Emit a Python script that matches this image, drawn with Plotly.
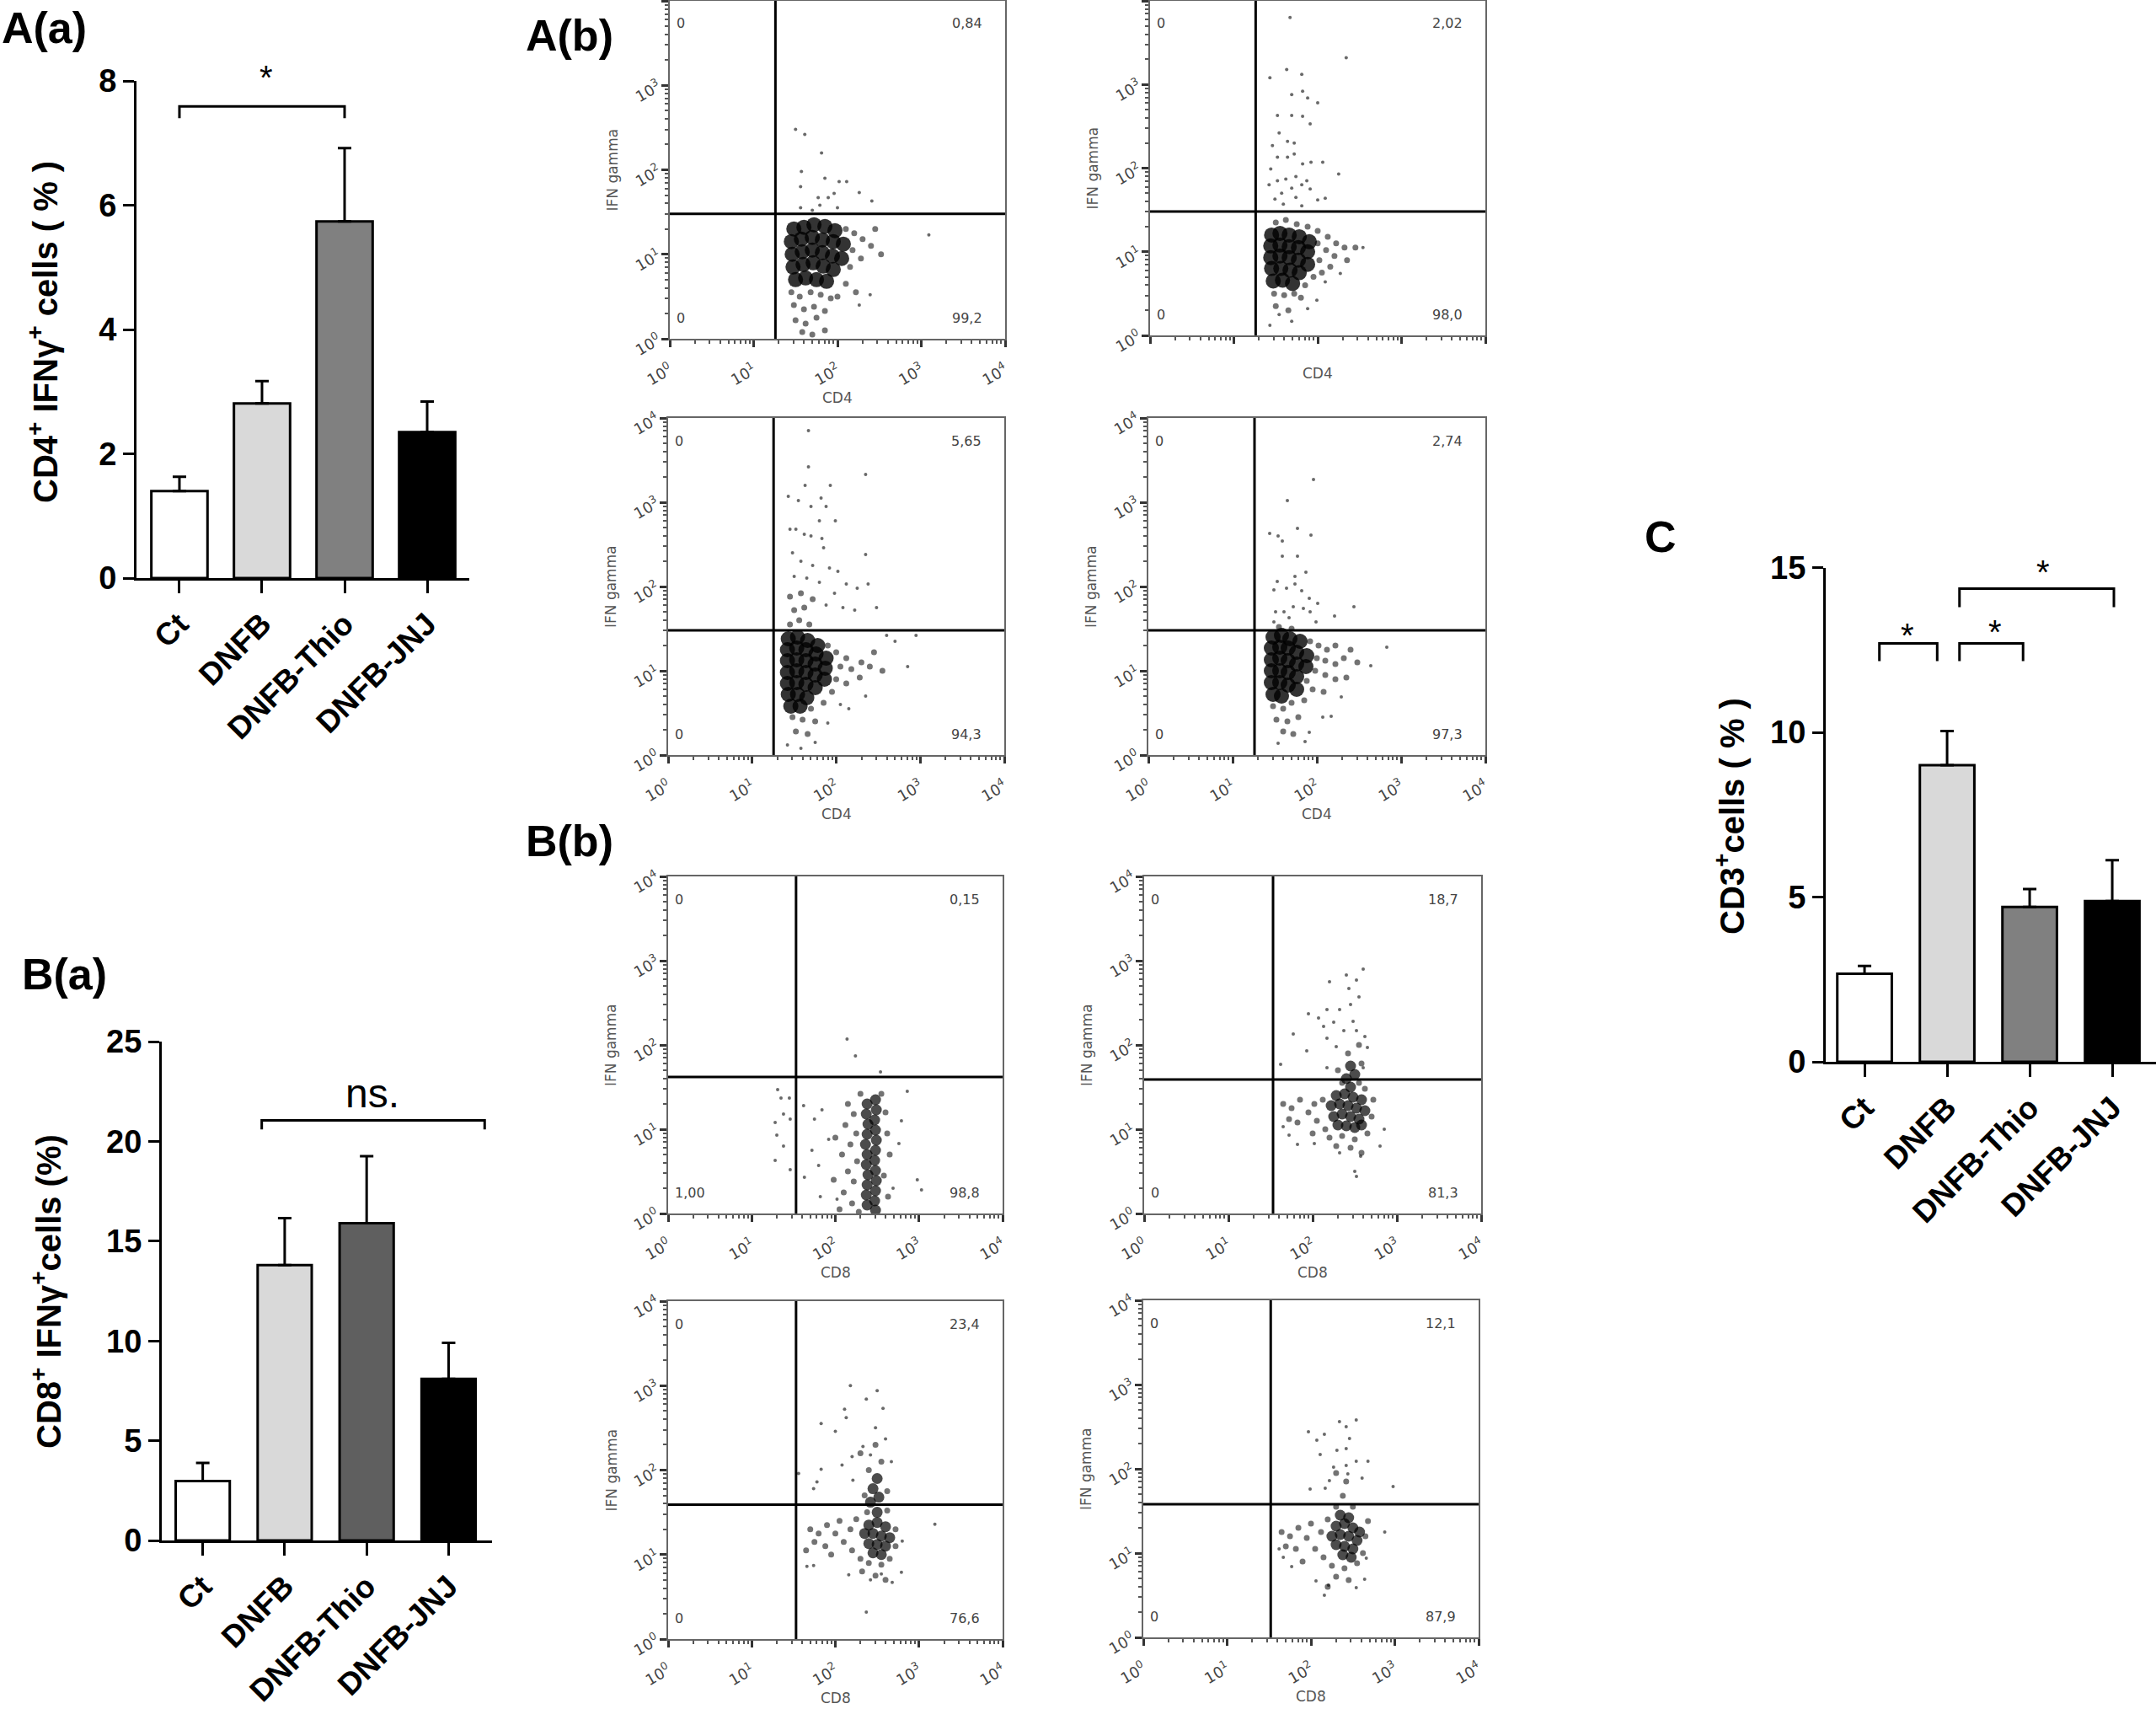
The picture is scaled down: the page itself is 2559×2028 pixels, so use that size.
import plotly.graph_objects as go

W, H = 2559, 2028

# ---------------- bar charts ----------------
groups = ["Ct", "DNFB", "DNFB-Thio", "DNFB-JNJ"]

cd4_ifng = [1.40, 2.81, 5.74, 2.35]
cd4_ifng_err = [0.23, 0.36, 1.18, 0.49]

cd8_ifng = [2.98, 13.8, 15.9, 8.1]
cd8_ifng_err = [0.90, 2.35, 3.36, 1.80]

cd3_cells = [2.67, 9.0, 4.70, 4.88]
cd3_cells_err = [0.24, 1.04, 0.54, 1.24]

# brackets: (x from, x to, top, foot); marks: (x, y, text)
cd4_brackets = [(0.0, 2.0, 7.59, 7.40)]
cd4_marks = [(1.05, 8.05, "*")]
cd8_brackets = [(0.72, 3.44, 21.05, 20.6)]
cd8_marks = [(2.07, 22.4, "ns.")]
cd3_brackets = [(0.18, 0.88, 12.7, 12.16), (1.15, 1.92, 12.7, 12.16), (1.15, 3.02, 14.36, 13.8)]
cd3_marks = [(0.52, 12.95, "*"), (1.58, 13.05, "*"), (2.16, 14.85, "*")]

# ---------------- flow dot plots (log10 units) ----------------
quad_ul = ["0", "0", "0", "0", "0", "0", "0", "0"]
quad_ur = ["0,84", "2,02", "5,65", "2,74", "0,15", "18,7", "23,4", "12,1"]
quad_ll = ["0", "0", "0", "0", "1,00", "0", "0", "0"]
quad_lr = ["99,2", "98,0", "94,3", "97,3", "98,8", "81,3", "76,6", "87,9"]
x_markers = ["CD4", "CD4", "CD4", "CD4", "CD8", "CD8", "CD8", "CD8"]
gate_x = [1.26, 1.26, 1.255, 1.26, 1.53, 1.53, 1.53, 1.52]
gate_y = [1.48, 1.48, 1.48, 1.48, 1.62, 1.59, 1.59, 1.58]

# CD4 / Ct
cd4_ct_core = [(1.48, 1.30), (1.60, 1.32), (1.72, 1.35), (1.85, 1.33), (1.97, 1.28),
               (1.45, 1.15), (1.57, 1.18), (1.70, 1.20), (1.82, 1.17), (1.95, 1.15), (2.07, 1.12),
               (1.46, 1.00), (1.58, 1.03), (1.70, 1.05), (1.82, 1.02), (1.94, 0.98), (2.05, 0.95),
               (1.47, 0.85), (1.59, 0.88), (1.71, 0.90), (1.83, 0.86), (1.95, 0.82),
               (1.50, 0.70), (1.62, 0.72), (1.75, 0.70), (1.87, 0.68)]
cd4_ct_mid = [(1.45, 0.55), (1.55, 0.50), (1.68, 0.55), (1.80, 0.52), (1.92, 0.48), (1.48, 0.40),
              (1.60, 0.35), (1.72, 0.38), (1.85, 0.33), (1.50, 0.22), (1.62, 0.18), (1.75, 0.25),
              (1.58, 0.08), (1.70, 0.05), (1.85, 0.10), (2.10, 1.30), (2.20, 1.25), (2.30, 1.18),
              (2.18, 1.05), (2.28, 0.95), (2.40, 1.10), (2.45, 1.30), (2.52, 1.00), (2.15, 0.85),
              (2.10, 0.65), (2.00, 0.50), (2.22, 0.55)]
cd4_ct_dots = [(1.50, 2.48), (1.61, 2.42), (1.81, 2.20), (1.57, 1.98), (1.85, 1.90), (2.02, 1.86),
               (2.11, 1.86), (1.56, 1.80), (1.96, 1.72), (1.89, 1.67), (1.77, 1.67), (2.26, 1.73),
               (2.41, 1.63), (1.56, 1.55), (1.79, 1.58), (3.09, 1.23), (2.39, 0.52), (2.26, 0.40),
               (2.00, 1.55), (1.70, 1.52)]

# CD4 / DNFB
cd4_dnfb_core = [(1.45, 1.20), (1.55, 1.22), (1.66, 1.20), (1.78, 1.18), (1.90, 1.12),
                 (1.44, 1.07), (1.55, 1.08), (1.66, 1.06), (1.77, 1.05), (1.88, 1.00),
                 (1.44, 0.93), (1.55, 0.95), (1.66, 0.93), (1.77, 0.90), (1.88, 0.85),
                 (1.45, 0.80), (1.56, 0.80), (1.67, 0.78), (1.78, 0.75),
                 (1.47, 0.65), (1.58, 0.66), (1.70, 0.62)]
cd4_dnfb_mid = [(1.50, 1.35), (1.62, 1.38), (1.75, 1.33), (1.88, 1.30), (2.00, 1.25), (2.00, 1.10),
                (2.12, 1.18), (2.10, 1.02), (2.22, 1.10), (2.20, 0.95), (2.32, 1.05), (2.02, 0.90),
                (2.15, 0.82), (2.35, 0.90), (2.45, 1.05), (1.95, 0.70), (1.85, 0.60), (1.48, 0.50),
                (1.60, 0.48), (1.72, 0.50), (1.50, 0.35), (1.65, 0.30), (1.80, 0.45), (2.05, 0.75)]
cd4_dnfb_dots = [(1.67, 3.80), (2.34, 3.32), (1.63, 3.18), (1.43, 3.08), (1.81, 3.12), (1.69, 2.88),
                 (1.82, 2.92), (1.88, 2.84), (2.00, 2.78), (1.52, 2.63), (1.69, 2.63), (1.82, 2.62),
                 (1.91, 2.53), (1.54, 2.42), (1.46, 2.27), (1.64, 2.32), (1.72, 2.30), (1.52, 2.13),
                 (1.64, 2.13), (1.72, 2.17), (1.82, 2.05), (1.92, 2.07), (2.06, 2.07), (1.44, 1.99),
                 (1.52, 1.85), (1.62, 1.87), (1.74, 1.90), (1.87, 1.85), (2.25, 1.93), (1.42, 1.80),
                 (1.57, 1.70), (1.69, 1.76), (1.81, 1.80), (1.91, 1.75), (1.49, 1.63), (1.74, 1.65),
                 (2.00, 1.62), (2.09, 1.64), (1.59, 1.57), (1.81, 1.55), (2.54, 1.05), (2.27, 0.74),
                 (2.09, 0.64), (1.99, 0.42), (1.88, 0.32), (1.69, 0.17), (1.54, 0.25), (1.43, 0.12)]

# CD4 / DNFB-Thio
cd4_thio_core = [(1.43, 1.38), (1.54, 1.40), (1.66, 1.36), (1.78, 1.30),
                 (1.42, 1.25), (1.53, 1.27), (1.64, 1.25), (1.76, 1.20), (1.88, 1.15),
                 (1.42, 1.12), (1.53, 1.13), (1.64, 1.12), (1.75, 1.08), (1.87, 1.03),
                 (1.42, 0.98), (1.53, 1.00), (1.64, 0.98), (1.75, 0.95), (1.86, 0.90),
                 (1.42, 0.85), (1.53, 0.86), (1.64, 0.84), (1.75, 0.80),
                 (1.43, 0.72), (1.54, 0.72), (1.65, 0.68), (1.46, 0.58), (1.57, 0.58)]
cd4_thio_mid = [(1.45, 1.55), (1.56, 1.60), (1.68, 1.55), (1.50, 1.72), (1.62, 1.75), (1.45, 1.88),
                (1.58, 1.92), (1.72, 1.85), (1.90, 1.30), (2.00, 1.22), (2.12, 1.15), (2.05, 1.05),
                (2.18, 1.02), (2.30, 1.10), (2.00, 0.90), (2.12, 0.85), (2.28, 0.92), (2.40, 1.05),
                (1.95, 0.75), (1.85, 0.62), (1.70, 0.55), (1.48, 0.45), (1.60, 0.42), (1.75, 0.40),
                (1.52, 0.28), (1.66, 0.25), (2.45, 1.22), (2.55, 1.00)]
cd4_thio_dots = [(1.67, 3.85), (1.67, 3.42), (1.63, 3.20), (1.93, 3.20), (2.35, 3.33), (1.43, 3.07),
                 (1.55, 3.02), (1.82, 3.05), (1.70, 2.95), (1.88, 2.95), (1.80, 2.78), (1.99, 2.78),
                 (1.45, 2.68), (1.52, 2.68), (1.62, 2.62), (1.70, 2.60), (1.83, 2.57), (1.85, 2.46),
                 (2.35, 2.38), (1.48, 2.40), (1.58, 2.30), (1.72, 2.25), (1.92, 2.22), (2.02, 2.18),
                 (1.50, 2.12), (1.65, 2.10), (1.80, 2.05), (2.38, 2.03), (2.12, 2.03), (2.25, 1.98),
                 (1.98, 1.92), (1.88, 1.78), (2.08, 1.75), (2.22, 1.72), (2.48, 1.75), (2.60, 1.42),
                 (2.70, 1.35), (2.95, 1.42), (2.85, 1.05), (2.35, 0.70), (2.15, 0.55), (1.90, 0.38),
                 (1.75, 0.15), (1.58, 0.08), (1.42, 0.12), (2.05, 0.60)]

# CD4 / DNFB-JNJ
cd4_jnj_core = [(1.48, 1.40), (1.58, 1.42), (1.68, 1.38), (1.80, 1.35),
                (1.46, 1.27), (1.56, 1.28), (1.66, 1.27), (1.76, 1.22), (1.88, 1.18),
                (1.46, 1.13), (1.56, 1.15), (1.66, 1.12), (1.76, 1.08), (1.87, 1.05),
                (1.46, 1.00), (1.56, 1.00), (1.66, 0.98), (1.76, 0.93),
                (1.46, 0.86), (1.56, 0.86), (1.66, 0.83), (1.76, 0.78),
                (1.48, 0.72), (1.58, 0.70)]
cd4_jnj_mid = [(1.92, 1.35), (2.02, 1.30), (2.12, 1.25), (2.22, 1.30), (2.00, 1.15), (2.10, 1.12),
               (2.22, 1.08), (2.32, 1.15), (2.40, 1.25), (1.98, 1.00), (2.10, 0.95), (2.22, 0.90),
               (2.35, 0.92), (1.88, 0.88), (1.95, 0.78), (2.08, 0.75), (1.85, 0.65), (1.70, 0.62),
               (1.48, 0.58), (1.60, 0.55), (1.52, 0.42), (1.65, 0.40), (1.78, 0.45), (1.60, 0.28),
               (1.72, 0.25), (2.48, 1.10), (1.55, 1.52), (1.70, 1.50)]
cd4_jnj_dots = [(1.96, 3.27), (1.65, 3.02), (1.44, 2.63), (1.54, 2.60), (1.77, 2.69), (1.93, 2.61),
                (1.59, 2.54), (1.59, 2.36), (1.77, 2.36), (1.74, 2.12), (1.87, 2.17), (1.53, 2.06),
                (1.49, 1.96), (1.64, 1.98), (1.74, 2.03), (1.82, 1.95), (1.91, 1.86), (2.01, 1.80),
                (2.44, 1.76), (1.72, 1.76), (1.84, 1.74), (1.51, 1.70), (1.61, 1.70), (1.92, 1.70),
                (2.21, 1.65), (1.49, 1.58), (1.67, 1.63), (1.99, 1.58), (2.83, 1.28), (2.64, 1.06),
                (2.29, 0.69), (2.17, 0.46), (2.07, 0.45), (1.91, 0.27), (1.86, 0.16), (1.54, 0.14)]

# CD8 / Ct
cd8_ct_core = [(2.38, 1.30), (2.37, 1.18), (2.39, 1.06), (2.38, 0.94), (2.36, 0.82), (2.38, 0.70),
               (2.37, 0.58), (2.39, 0.46), (2.38, 0.34), (2.37, 0.22), (2.38, 0.10),
               (2.48, 1.35), (2.49, 1.23), (2.47, 1.11), (2.48, 0.99), (2.49, 0.87), (2.48, 0.75),
               (2.47, 0.63), (2.48, 0.51), (2.49, 0.39), (2.48, 0.27), (2.47, 0.15), (2.48, 0.04)]
cd8_ct_mid = [(2.15, 1.30), (2.22, 1.18), (2.12, 1.05), (2.25, 0.95), (2.18, 0.82), (2.08, 0.70),
              (2.26, 0.62), (2.15, 0.50), (2.22, 0.38), (2.10, 0.25), (2.20, 0.12), (2.05, 0.05),
              (2.60, 1.20), (2.62, 0.95), (2.65, 0.70), (2.58, 0.45), (2.63, 0.20), (2.30, 1.42),
              (2.55, 1.42), (2.00, 0.90), (1.98, 0.40), (2.28, 0.02)]
cd8_ct_dots = [(2.14, 2.07), (2.24, 1.87), (1.31, 1.47), (1.35, 1.37), (1.45, 1.37), (1.38, 1.18),
               (1.28, 1.08), (1.46, 1.12), (1.30, 0.93), (1.38, 0.80), (1.28, 0.63), (1.46, 0.52),
               (1.62, 1.28), (1.75, 1.12), (1.84, 1.23), (1.92, 0.88), (1.72, 0.75), (1.80, 0.57),
               (1.63, 0.43), (1.82, 0.20), (2.02, 0.17), (2.86, 1.45), (2.79, 1.10), (2.76, 0.83),
               (2.98, 0.40), (3.03, 0.28), (2.69, 0.30), (2.54, 1.68)]

# CD8 / DNFB
cd8_dnfb_core = [(2.28, 1.40), (2.38, 1.42), (2.48, 1.38), (2.58, 1.35), (2.22, 1.28), (2.32, 1.30),
                 (2.42, 1.28), (2.52, 1.25), (2.62, 1.22), (2.25, 1.15), (2.35, 1.18), (2.45, 1.15),
                 (2.55, 1.12), (2.30, 1.05), (2.40, 1.04), (2.50, 1.02), (2.58, 1.05), (2.45, 1.50),
                 (2.40, 1.60), (2.50, 1.65), (2.45, 1.75)]
cd8_dnfb_mid = [(1.65, 1.30), (1.75, 1.25), (1.85, 1.35), (1.72, 1.12), (1.82, 1.08), (1.95, 1.20),
                (2.02, 1.30), (2.05, 1.10), (2.12, 1.35), (2.15, 1.00), (2.00, 0.95), (2.20, 0.90),
                (2.35, 0.92), (2.50, 0.88), (2.65, 0.95), (2.70, 1.15), (2.72, 1.35), (2.28, 0.80),
                (2.45, 0.78), (2.58, 0.72), (2.35, 1.55), (2.55, 1.55), (2.62, 1.48), (2.30, 1.70),
                (2.58, 1.78), (2.42, 1.90), (2.55, 2.00)]
cd8_dnfb_dots = [(2.60, 2.90), (2.40, 2.83), (2.20, 2.75), (2.52, 2.77), (2.43, 2.67), (2.55, 2.57),
                 (2.45, 2.48), (1.95, 2.37), (2.17, 2.42), (2.32, 2.42), (2.25, 2.27), (2.07, 2.32),
                 (2.13, 2.22), (2.48, 2.28), (2.37, 2.17), (2.52, 2.17), (2.62, 2.10), (2.17, 2.08),
                 (2.28, 1.98), (2.65, 1.97), (1.93, 1.93), (1.77, 2.13), (2.17, 1.73), (2.60, 1.73),
                 (1.62, 1.77), (1.82, 0.82), (2.02, 0.83), (2.32, 0.72), (2.57, 0.68), (2.80, 0.80),
                 (2.85, 1.00), (2.50, 0.50), (2.52, 0.44), (1.65, 1.03), (1.72, 0.93)]

# CD8 / DNFB-Thio
cd8_thio_core = [(2.40, 1.35), (2.50, 1.38), (2.60, 1.33), (2.35, 1.25), (2.45, 1.25), (2.55, 1.22),
                 (2.65, 1.20), (2.40, 1.13), (2.50, 1.12), (2.60, 1.10), (2.45, 1.02), (2.55, 1.00),
                 (2.50, 1.50), (2.42, 1.62), (2.52, 1.68), (2.45, 1.78), (2.50, 1.90)]
cd8_thio_mid = [(1.70, 1.30), (1.80, 1.25), (1.90, 1.35), (1.75, 1.15), (1.88, 1.10), (2.00, 1.25),
                (2.05, 1.40), (2.10, 1.15), (2.18, 1.30), (2.20, 1.05), (2.25, 1.42), (2.30, 0.95),
                (2.40, 0.90), (2.55, 0.88), (2.65, 0.95), (2.72, 1.10), (2.72, 1.30), (2.32, 0.80),
                (2.48, 0.75), (2.60, 0.70), (2.38, 1.50), (2.62, 1.52), (2.35, 1.70), (2.62, 1.75),
                (2.40, 2.00), (2.55, 2.10), (2.30, 2.20), (2.48, 2.30), (1.65, 1.05), (1.95, 1.00)]
cd8_thio_dots = [(2.18, 3.00), (2.50, 2.94), (2.37, 2.84), (2.57, 2.73), (2.11, 2.72), (2.13, 2.62),
                 (1.83, 2.55), (2.48, 2.50), (2.00, 2.46), (2.60, 2.37), (2.33, 2.28), (2.42, 2.18),
                 (2.20, 2.16), (2.67, 2.10), (2.08, 2.06), (1.83, 2.01), (2.21, 1.88), (1.78, 1.86),
                 (1.74, 1.78), (1.56, 1.96), (3.19, 1.36), (2.80, 1.16), (2.79, 0.79), (2.16, 0.76),
                 (2.42, 0.70), (2.68, 0.67), (1.66, 0.86), (1.74, 0.87), (2.37, 0.32), (2.55, 0.77)]

# CD8 / DNFB-JNJ
cd8_jnj_core = [(2.30, 1.32), (2.40, 1.35), (2.50, 1.30), (2.58, 1.25), (2.25, 1.20), (2.35, 1.22),
                (2.45, 1.20), (2.55, 1.15), (2.30, 1.10), (2.40, 1.08), (2.50, 1.05), (2.38, 0.98),
                (2.48, 0.95), (2.35, 1.45), (2.45, 1.42)]
cd8_jnj_mid = [(1.65, 1.25), (1.75, 1.20), (1.85, 1.30), (1.70, 1.08), (1.82, 1.05), (1.95, 1.18),
               (2.00, 1.35), (2.05, 1.05), (2.12, 1.25), (2.15, 0.95), (2.20, 1.40), (2.25, 0.85),
               (2.40, 0.82), (2.55, 0.88), (2.62, 1.00), (2.65, 1.20), (2.68, 1.38), (2.30, 0.72),
               (2.45, 0.68), (2.20, 0.60), (2.30, 1.55), (2.50, 1.55), (2.38, 1.68), (2.42, 1.85),
               (2.30, 1.95), (1.90, 0.90)]
cd8_jnj_dots = [(2.34, 2.56), (2.54, 2.58), (2.42, 2.50), (1.97, 2.44), (2.16, 2.41), (2.07, 2.34),
                (2.46, 2.36), (2.31, 2.22), (2.42, 2.24), (2.11, 2.17), (2.54, 2.09), (2.68, 2.09),
                (2.27, 2.02), (2.42, 2.04), (2.44, 1.94), (2.22, 1.86), (1.99, 1.76), (2.17, 1.77),
                (2.98, 1.79), (2.61, 1.89), (2.88, 1.25), (2.66, 0.94), (1.77, 0.84), (2.64, 0.69),
                (2.06, 0.67), (2.21, 0.62), (2.54, 0.59), (2.16, 0.50), (1.62, 1.05), (1.67, 0.95)]

clouds = [
    (cd4_ct_core, cd4_ct_mid, cd4_ct_dots),
    (cd4_dnfb_core, cd4_dnfb_mid, cd4_dnfb_dots),
    (cd4_thio_core, cd4_thio_mid, cd4_thio_dots),
    (cd4_jnj_core, cd4_jnj_mid, cd4_jnj_dots),
    (cd8_ct_core, cd8_ct_mid, cd8_ct_dots),
    (cd8_dnfb_core, cd8_dnfb_mid, cd8_dnfb_dots),
    (cd8_thio_core, cd8_thio_mid, cd8_thio_dots),
    (cd8_jnj_core, cd8_jnj_mid, cd8_jnj_dots),
]

FONT = "Liberation Sans"
FLOW_FONT = "DejaVu Sans"


def px_x(a, b):
    return [a / W, b / W]


def px_y(top, bottom):
    return [1 - bottom / H, 1 - top / H]


def axname(n, kind):
    return kind if n == 1 else f"{kind}{n}"


fig = go.Figure()
layout = {}
annotations = []

# ---- bar panels ----
bar_panels = [
    dict(y=cd4_ifng, err=cd4_ifng_err, colors=["white", "#d9d9d9", "#808080", "black"],
         box=(162, 557, 96, 686), xr=[-0.52, 3.51], yr=[0, 8], ticks=[0, 2, 4, 6, 8], width=0.68,
         brackets=cd4_brackets, marks=cd4_marks,
         title="CD4<sup>+</sup> IFNγ<sup>+</sup> cells ( % )", title_xy=(51, 394)),
    dict(y=cd8_ifng, err=cd8_ifng_err, colors=["white", "#d9d9d9", "#5f5f5f", "black"],
         box=(192, 584, 1236, 1828), xr=[-0.50, 3.53], yr=[0, 25], ticks=[0, 5, 10, 15, 20, 25], width=0.66,
         brackets=cd8_brackets, marks=cd8_marks,
         title="CD8<sup>+</sup> IFNγ<sup>+</sup>cells (%)", title_xy=(55, 1533)),
    dict(y=cd3_cells, err=cd3_cells_err, colors=["white", "#d9d9d9", "#808080", "black"],
         box=(2167, 2559, 673.5, 1260), xr=[-0.47, 3.53], yr=[0, 15], ticks=[0, 5, 10, 15], width=0.66,
         brackets=cd3_brackets, marks=cd3_marks,
         title="CD3<sup>+</sup>cells ( % )", title_xy=(2053, 969)),
]

for i, p in enumerate(bar_panels):
    n = i + 1
    xa, ya = axname(n, "x"), axname(n, "y")
    fig.add_trace(go.Bar(
        x=list(range(len(groups))), y=p["y"], width=p["width"],
        marker=dict(color=p["colors"], line=dict(color="black", width=3)),
        error_y=dict(type="data", symmetric=False, array=p["err"], arrayminus=[0] * len(groups),
                     color="black", thickness=3, width=8),
        xaxis=xa, yaxis=ya, showlegend=False, hoverinfo="skip"))
    for x0, x1, top, foot in p["brackets"]:
        fig.add_trace(go.Scatter(
            x=[x0, x0, x1, x1], y=[foot, top, top, foot], mode="lines",
            line=dict(color="black", width=3), xaxis=xa, yaxis=ya,
            showlegend=False, hoverinfo="skip", cliponaxis=False))
    ymin, ymax = p["yr"]
    for mx, my, txt in p["marks"]:
        # placed on the axis domain so marks above the top tick stay visible
        annotations.append(dict(x=mx, y=(my - ymin) / (ymax - ymin), xref=xa, yref=f"{ya} domain",
                                text=txt, showarrow=False, xanchor="center", yanchor="middle",
                                font=dict(family=FONT, size=48 if txt == "ns." else 40, color="black")))
    l, r, t, b = p["box"]
    layout[axname(n, "xaxis")] = dict(
        domain=px_x(l, r), range=p["xr"], anchor=ya, showline=True, linecolor="black", linewidth=3,
        ticks="outside", ticklen=15, tickwidth=3, tickcolor="black",
        tickvals=list(range(len(groups))), ticktext=groups, tickangle=-45,
        tickfont=dict(family=FONT, size=37, color="black", weight="bold"),
        showgrid=False, zeroline=False, automargin=False)
    layout[axname(n, "yaxis")] = dict(
        domain=px_y(t, b), range=p["yr"], anchor=xa, showline=True, linecolor="black", linewidth=3,
        ticks="outside", ticklen=13, tickwidth=3, tickcolor="black", tickvals=p["ticks"],
        tickfont=dict(family=FONT, size=38, color="black", weight="bold"),
        showgrid=False, zeroline=False, automargin=False)
    tx, ty = p["title_xy"]
    annotations.append(dict(x=tx / W, y=1 - ty / H, xref="paper", yref="paper", text=p["title"],
                            textangle=-90, showarrow=False, xanchor="center", yanchor="middle",
                            font=dict(family=FONT, size=40, color="black", weight="bold")))

# ---- flow cytometry dot plots ----
flow_boxes = [
    (795, 1193, 1, 402), (1365, 1763, 1, 398),
    (793, 1192, 496, 896), (1363, 1763, 496, 896),
    (793, 1190, 1040, 1440), (1358, 1758, 1040, 1440),
    (793, 1190, 1544, 1945), (1357, 1755, 1543, 1943),
]
dec_vals = [1, 10, 100, 1000, 10000]
dec_text = ["10<sup>0</sup>", "10<sup>1</sup>", "10<sup>2</sup>", "10<sup>3</sup>", "10<sup>4</sup>"]
minor_vals = [m * 10 ** k for k in range(4) for m in range(2, 10)]

for i, (core, mid, dots) in enumerate(clouds):
    n = 4 + i
    xa, ya = axname(n, "x"), axname(n, "y")
    is_cd4 = i < 4
    tiers = [
        (dots, 4, "#444444", 0.8),
        (mid, 7, "#000000", 0.55),
        (core, 18 if is_cd4 else 13, "#000000", 0.8 if is_cd4 else 0.7),
    ]
    for pts, size, color, op in tiers:
        fig.add_trace(go.Scatter(
            x=[10 ** px for px, py in pts], y=[10 ** py for px, py in pts], mode="markers",
            marker=dict(size=size, color=color, opacity=op, line=dict(width=0)),
            xaxis=xa, yaxis=ya, showlegend=False, hoverinfo="skip"))
    # quadrant gate
    gx, gy = 10 ** gate_x[i], 10 ** gate_y[i]
    fig.add_trace(go.Scatter(x=[gx, gx, None, 1, 10000], y=[1, 10000, None, gy, gy], mode="lines",
                             line=dict(color="black", width=3), xaxis=xa, yaxis=ya,
                             showlegend=False, hoverinfo="skip"))
    l, r, t, b = flow_boxes[i]
    common = dict(type="log", range=[0, 4], showline=True, mirror=True, linecolor="#666", linewidth=2,
                  ticks="outside", ticklen=8, tickwidth=3, tickcolor="#333",
                  tickvals=dec_vals, ticktext=dec_text, tickangle=-30,
                  tickfont=dict(family=FLOW_FONT, size=18, color="#444"),
                  minor=dict(tickvals=minor_vals, ticks="outside", ticklen=4, tickwidth=2, tickcolor="#555"),
                  showgrid=False, zeroline=False, automargin=False)
    layout[axname(n, "xaxis")] = dict(common, domain=px_x(l, r), anchor=ya, showticklabels=(i != 1),
                                      ticklabelstandoff=10)
    layout[axname(n, "yaxis")] = dict(common, domain=px_y(t, b), anchor=xa)
    qfont = dict(family=FLOW_FONT, size=16, color="#444")
    ll_dx = 13 if len(quad_ll[i]) == 1 else 26
    for qx, qy, txt in [(l + 13, t + 27, quad_ul[i]), (r - 45, t + 27, quad_ur[i]),
                        (l + ll_dx, b - 25, quad_ll[i]), (r - 45, b - 25, quad_lr[i])]:
        annotations.append(dict(x=qx / W, y=1 - qy / H, xref="paper", yref="paper", text=txt,
                                showarrow=False, xanchor="center", yanchor="middle", font=qfont))
    annotations.append(dict(x=(l + r) / 2 / W, y=1 - (b + (45 if i == 1 else 70)) / H,
                            xref="paper", yref="paper",
                            text=x_markers[i], showarrow=False, xanchor="center", yanchor="middle",
                            font=dict(family=FLOW_FONT, size=17, color="#555")))
    annotations.append(dict(x=(l - 68) / W, y=1 - (t + b) / 2 / H, xref="paper", yref="paper",
                            text="IFN gamma", textangle=-90, showarrow=False,
                            xanchor="center", yanchor="middle",
                            font=dict(family=FLOW_FONT, size=17, color="#555")))

# ---- panel letters ----
for txt, x, y in [("A(a)", 0, 33), ("A(b)", 622, 42), ("B(a)", 24, 1156), ("B(b)", 622, 998), ("C", 1950, 637)]:
    annotations.append(dict(x=x / W, y=1 - y / H, xref="paper", yref="paper", text=txt, showarrow=False,
                            xanchor="left", yanchor="middle",
                            font=dict(family=FONT, size=52, color="black", weight="bold")))

fig.update_layout(
    width=W, height=H, autosize=False,
    margin=dict(l=0, r=0, t=0, b=0),
    paper_bgcolor="white", plot_bgcolor="white",
    showlegend=False, annotations=annotations, **layout)

fig.write_html("out.html", config={"displayModeBar": False},
               post_script="document.body.style.margin='0';")
